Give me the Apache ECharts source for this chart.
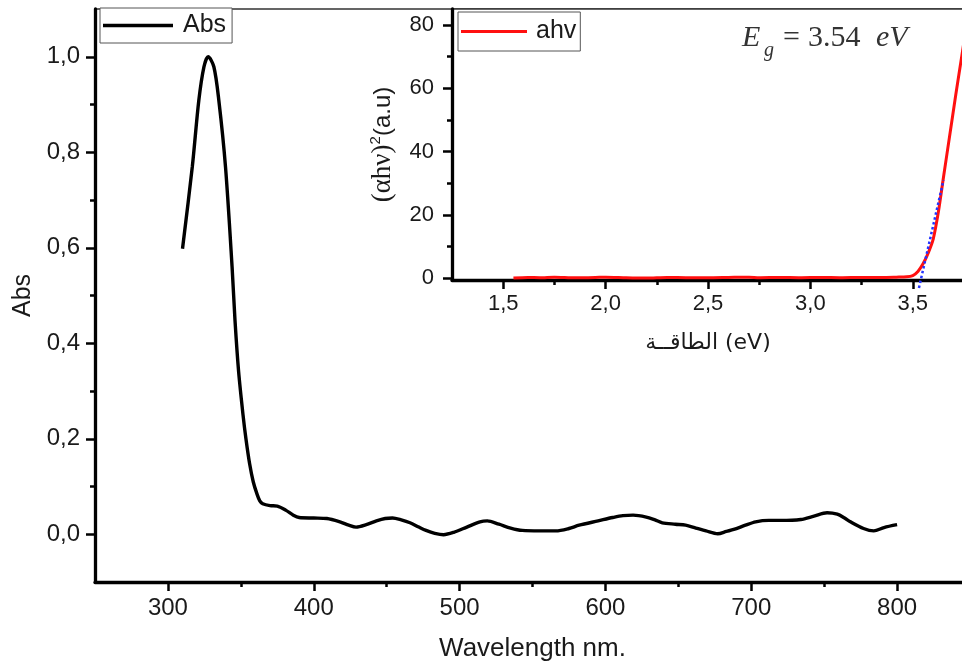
<!DOCTYPE html>
<html><head><meta charset="utf-8">
<script src="https://cdn.jsdelivr.net/npm/echarts@6/dist/echarts.min.js"></script>
<style>html,body{margin:0;padding:0;background:#fff}#c{width:962px;height:667px}</style>
</head><body><div id="c"></div>
<script>
// ---- data ----
const wavelength = [310,316.7,321.2,324.7,327.6,331.5,334.9,339.5,344,346,348.5,351.5,353.5,356,358.5,361,363,365,370,375,381,386,390,400,409,418,424,429,436,443,449,454,460,466,472,477,483,489,496,505,514,519,527,535,543,555,566,575,582,595,605,612,619,628,634,639,648,655,662,669,677,683,688,696,703,712,720,734,743,752,759,764,768,777,784,791,800];
const absValues = [0.598,0.769,0.909,0.979,1.0,0.979,0.909,0.769,0.56,0.448,0.34,0.25,0.2,0.148,0.11,0.085,0.07,0.064,0.06,0.059,0.05,0.04,0.035,0.034,0.033,0.026,0.019,0.015,0.02,0.028,0.033,0.034,0.03,0.024,0.015,0.008,0.002,-0.001,0.004,0.015,0.026,0.028,0.021,0.013,0.008,0.007,0.007,0.012,0.019,0.028,0.035,0.039,0.04,0.036,0.03,0.024,0.021,0.019,0.013,0.007,0.001,0.006,0.010,0.019,0.026,0.029,0.029,0.031,0.038,0.045,0.042,0.034,0.026,0.012,0.007,0.014,0.02];
const energy = [1.55,1.62,1.68,1.75,1.85,1.95,2.0,2.1,2.2,2.3,2.4,2.5,2.6,2.7,2.75,2.85,2.95,3.05,3.15,3.25,3.35,3.42,3.47,3.5,3.525,3.55,3.575,3.6,3.625,3.65,3.68,3.71,3.74,3.77];
const ahvValues = [0.1,0.3,0.2,0.4,0.2,0.3,0.4,0.2,0.1,0.3,0.2,0.2,0.3,0.4,0.2,0.3,0.2,0.3,0.2,0.3,0.3,0.4,0.5,0.9,2.2,4.6,8,12.5,21,32,45,58,70.5,83];
const tangentEnergy = [3.53, 3.65];
const tangentValues = [-3, 31];
const mainXTicks = [300,400,500,600,700,800];
const mainXMinor = [350,450,550,650,750];
const mainYTicks = [0,0.2,0.4,0.6,0.8,1.0];
const mainYMinor = [0.1,0.3,0.5,0.7,0.9];
const insetXTicks = [1.5,2.0,2.5,3.0,3.5];
const insetXMinor = [1.75,2.25,2.75,3.25];
const insetYTicks = [0,20,40,60,80];
const insetYMinor = [10,30,50,70];

const SANS = '"Liberation Sans", Arial, sans-serif';
const SERIF = '"Liberation Serif", "Times New Roman", serif';
const TXT = '#1a1a1a';
const comma = v => Number(v).toFixed(1).replace('.', ',');

function majorAxis(grid, pos, min, max, ticks, fmt, fs, margin, extra) {
  return Object.assign({
    type: 'value', gridIndex: grid, position: pos, min: min, max: max,
    axisLine: { show: true, onZero: false, lineStyle: { color: '#000', width: 3.3 } },
    axisTick: { show: true, inside: false, length: 9, customValues: ticks, lineStyle: { color: '#000', width: 2.5 } },
    axisLabel: { show: true, customValues: ticks, formatter: fmt, margin: margin,
      fontFamily: SANS, fontSize: fs, color: TXT },
    splitLine: { show: false }
  }, extra || {});
}
function minorAxis(grid, pos, min, max, ticks) {
  return {
    type: 'value', gridIndex: grid, position: pos, offset: 0, min: min, max: max,
    axisLine: { show: false, onZero: false },
    axisTick: { show: true, inside: false, length: 5, customValues: ticks, lineStyle: { color: '#000', width: 2.5 } },
    axisLabel: { show: false },
    splitLine: { show: false }
  };
}

const chart = echarts.init(document.getElementById('c'), null, { renderer: 'canvas' });
chart.setOption({
  animation: false,
  backgroundColor: '#fff',
  grid: [
    { left: 95, right: -8, top: 9, bottom: 85, show: true, borderColor: '#333', borderWidth: 1.5, backgroundColor: 'transparent', outerBoundsMode: 'none' },
    { left: 452, right: -2, top: 9, bottom: 387, show: true, borderColor: '#333', borderWidth: 1.5, backgroundColor: '#fff', outerBoundsMode: 'none' }
  ],
  legend: [
    { data: [{ name: 'Abs', icon: 'rect' }], left: 100, top: 8, selectedMode: false, borderColor: '#555', borderWidth: 1,
      padding: [5, 6, 5, 3], itemWidth: 70, itemHeight: 3.5, backgroundColor: '#fff',
      textStyle: { fontFamily: SANS, fontSize: 25, color: TXT, padding: [0, 0, 0, 5] } },
    { data: [{ name: 'ahv', icon: 'rect' }], left: 458, top: 12, selectedMode: false, borderColor: '#555', borderWidth: 1,
      padding: [7, 4, 7, 3], itemWidth: 66, itemHeight: 3.2, backgroundColor: '#fff',
      textStyle: { fontFamily: SANS, fontSize: 25, color: TXT, padding: [0, 0, 0, 4] } }
  ],
  xAxis: [
    majorAxis(0, 'bottom', 250, 850, mainXTicks, v => String(v), 24, 14,
      { name: 'Wavelength nm.', nameLocation: 'middle', nameGap: 54,
        nameTextStyle: { fontFamily: SANS, fontSize: 26, color: TXT } }),
    minorAxis(0, 'bottom', 250, 850, mainXMinor),
    majorAxis(1, 'bottom', 1.25, 3.75, insetXTicks, comma, 22, 13,
      { name: 'الطاقــة (eV)', nameLocation: 'middle', nameGap: 52,
        nameTextStyle: { fontFamily: '"DejaVu Sans", ' + SANS, fontSize: 22, color: TXT } }),
    minorAxis(1, 'bottom', 1.25, 3.75, insetXMinor)
  ],
  yAxis: [
    majorAxis(0, 'left', -0.1, 1.1, mainYTicks, comma, 24, 15,
      { name: 'Abs', nameLocation: 'middle', nameRotate: 90, nameGap: 59,
        nameTextStyle: { fontFamily: SANS, fontSize: 25, color: TXT } }),
    minorAxis(0, 'left', -0.1, 1.1, mainYMinor),
    majorAxis(1, 'left', -0.5, 85, insetYTicks, v => String(v), 22, 18,
      { name: '{a|(αhν)}{s|2}{b|(a.u)}', nameLocation: 'middle', nameRotate: 90, nameGap: 54,
        nameTextStyle: { color: TXT, rich: {
          a: { fontFamily: SERIF, fontSize: 27, color: TXT, lineHeight: 30 },
          s: { fontFamily: SANS, fontSize: 15, color: TXT, verticalAlign: 'top', lineHeight: 30 },
          b: { fontFamily: SANS, fontSize: 24, color: TXT, lineHeight: 30 } } } }),
    minorAxis(1, 'left', -0.5, 85, insetYMinor)
  ],
  series: [
    { type: 'line', name: 'Abs', xAxisIndex: 0, yAxisIndex: 0, symbol: 'none', smooth: 0.3,
      data: wavelength.map((w, i) => [w, absValues[i]]),
      lineStyle: { color: '#000', width: 3.4 }, itemStyle: { color: '#000' } },
    { type: 'line', name: 'ahv', xAxisIndex: 2, yAxisIndex: 2, symbol: 'none', smooth: 0.25,
      data: energy.map((e, i) => [e, ahvValues[i]]),
      lineStyle: { color: '#ff1010', width: 3 }, itemStyle: { color: '#ff1010' } },
    { type: 'line', name: 'tangent', xAxisIndex: 2, yAxisIndex: 2, symbol: 'none', clip: false, z: 3,
      data: tangentEnergy.map((e, i) => [e, tangentValues[i]]),
      lineStyle: { color: '#2233ff', width: 2.5, type: 'dotted' }, itemStyle: { color: '#2233ff' } }
  ],
  graphic: [
    { type: 'text', x: 742, y: 38, style: { text: 'E', font: 'italic 30px ' + SERIF, fill: '#333', verticalAlign: 'middle', align: 'left' } },
    { type: 'text', x: 764, y: 51, style: { text: 'g', font: 'italic 20px ' + SERIF, fill: '#333', verticalAlign: 'middle', align: 'left' } },
    { type: 'text', x: 783, y: 38, style: { text: '=', font: '30px ' + SERIF, fill: '#333', verticalAlign: 'middle', align: 'left' } },
    { type: 'text', x: 808, y: 38, style: { text: '3.54', font: '30px ' + SERIF, fill: '#333', verticalAlign: 'middle', align: 'left' } },
    { type: 'text', x: 876, y: 38, style: { text: 'eV', font: 'italic 30px ' + SERIF, fill: '#333', verticalAlign: 'middle', align: 'left' } }
  ]
});
</script>
</body></html>
